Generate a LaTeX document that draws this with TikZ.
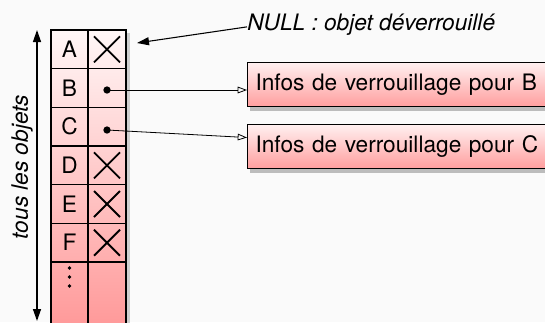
\documentclass[tikz,border=0pt]{standalone}
\usepackage{fontspec}
\setmainfont{TeX Gyre Heros}
\usetikzlibrary{arrows.meta,shadows}
\definecolor{fondgris}{RGB}{250,250,250}
\definecolor{tablehaut}{RGB}{255,247,247}
\definecolor{tablebas}{RGB}{255,152,152}
\definecolor{boitehaut}{RGB}{255,240,240}
\definecolor{boitebas}{RGB}{255,158,158}

\begin{document}
\begin{tikzpicture}[x=0.75pt,y=0.75pt,yscale=-1,xscale=1,
  font=\fontsize{17}{20}\selectfont,
  cellnode/.style={inner sep=0pt},
  infobox/.style={draw, line width=0.8pt, top color=boitehaut, bottom color=boitebas,
    drop shadow={shadow xshift=2pt,shadow yshift=-3pt,opacity=.5},
    anchor=north west, text width=218pt, inner xsep=6pt, minimum height=33pt, align=left},
  crossmark/.style={line width=1.4pt},
  pointeur/.style={circle, fill, inner sep=0pt, minimum size=5.5pt},
  ptr/.style={-{Triangle[open,length=7pt,width=5pt]}, line width=0.6pt},
  pleine/.style={line width=0.8pt},
]
%set diagram size 545 x 322
\useasboundingbox (0,0) rectangle (545,322);
\fill[fondgris] (0,0) rectangle (545,322);

%Shape: Table of objects
\path[drop shadow={shadow xshift=3pt,shadow yshift=-2pt,opacity=.35},
  top color=tablehaut, bottom color=tablebas] (51,30) rectangle (126,330);
\draw[line width=0.9pt] (51,330) -- (51,30) -- (126,30) -- (126,330);
\draw[line width=0.9pt] (88,30) -- (88,330);
\foreach \i in {1,...,6}
  \draw[line width=0.9pt] (51,{30+38.67*\i}) -- (126,{30+38.67*\i});

% Text Nodes of the rows
\foreach \lettre [count=\i] in {A,B,C,D,E,F} {
  \node[cellnode] (lettre\lettre) at (69.5,{30+38.67*(\i-0.5)}) {\lettre};
  \coordinate (case\lettre) at (107,{30+38.67*(\i-0.5)});
}
%vertical dots of the last row
\foreach \y in {268,277,286}
  \fill (69.5,\y) circle (1.9);

%Crosses : NULL
\foreach \lettre in {A,D,E,F} {
  \draw[crossmark] (case\lettre) ++(-13,-13) -- ++(26,26);
  \draw[crossmark] (case\lettre) ++(-13,13) -- ++(26,-26);
}

%Pointers
\node[pointeur] (pointB) at ([yshift=1.5pt]caseB) {};
\node[pointeur] (pointC) at ([yshift=2.5pt]caseC) {};

%Shape: Info boxes
\node[infobox] (infoB) at (247,62) {Infos de verrouillage pour B};
\node[infobox] (infoC) at (247,124) {Infos de verrouillage pour C};

%Straight Lines
\draw[ptr] (pointB.center) -- (infoB.west |- pointB);
\draw[ptr] (pointC.center) -- ([yshift=-6.75pt]infoC.west);

% Text Node
\node[anchor=base west, inner sep=0pt] (nullnote) at (247,30) {\itshape NULL : objet déverrouillé};
\coordinate (nullcible) at (137,43);
\draw[pleine, -{Triangle[length=9pt,width=6pt]}] ([yshift=2pt]nullnote.west) -- (nullcible);

%Vertical arrow
\coordinate (hautfleche) at (37,30);
\coordinate (basfleche) at (37,321);
\draw[line width=1pt, {Triangle[length=9pt,width=6pt]}-{Triangle[length=9pt,width=6pt]}] (hautfleche) -- (basfleche);
% Text Node
\node[rotate=90] (tous) at (22,167) {\itshape tous les objets};

\end{tikzpicture}
\end{document}
